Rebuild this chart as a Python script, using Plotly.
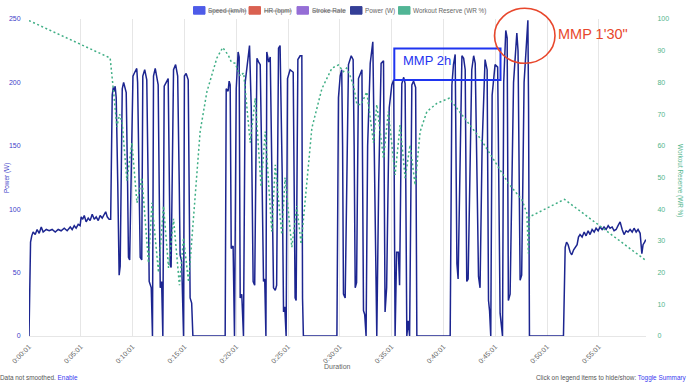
import plotly.graph_objects as go

# ---------------- data ----------------
power_t = [1, 5, 10, 17, 25, 37, 48, 60, 72, 83, 101, 118, 135, 153, 170, 187, 205, 222, 240, 251,
           263, 274, 286, 297, 303, 312, 321, 332, 344, 355, 367, 379, 390, 402, 413, 425, 436, 445, 454, 465,
           474, 483, 489, 494, 500, 506, 515, 523, 529, 535, 541, 549, 564, 572, 577, 584, 593, 603, 610, 625,
           630, 639, 645, 654, 660, 671, 683, 691, 697, 709, 716, 722, 732, 749, 755, 761, 769, 776, 784, 795,
           807, 813, 819, 824, 830, 838, 850, 862, 871, 876, 885, 896, 901, 911, 923, 929, 934, 943, 950, 1137,
           1143, 1154, 1160, 1166, 1172, 1183, 1191, 1201, 1212, 1218, 1224, 1233, 1243, 1253, 1278, 1288, 1299, 1308, 1321, 1331,
           1340, 1351, 1359, 1366, 1373, 1378, 1389, 1398, 1409, 1417, 1427, 1435, 1446, 1455, 1467, 1475, 1482, 1490, 1498, 1513,
           1531, 1542, 1548, 1558, 1571, 1581, 1585, 1590, 1784, 1793, 1803, 1812, 1817, 1822, 1832, 1851, 1867, 1878, 1884, 1890,
           1898, 1909, 1929, 1938, 1945, 1953, 1962, 1977, 1992, 2000, 2005, 2015, 2026, 2040, 2054, 2061, 2063, 2072, 2087, 2102,
           2113, 2121, 2130, 2140, 2147, 2160, 2171, 2179, 2189, 2197, 2205, 2218, 2228, 2240, 2247, 2440, 2450, 2459, 2469, 2479,
           2486, 2508, 2518, 2527, 2536, 2544, 2565, 2576, 2585, 2596, 2604, 2613, 2625, 2642, 2654, 2662, 2668, 2675, 2683, 2700,
           2715, 2729, 2743, 2750, 2762, 2770, 2777, 2787, 2807, 2826, 2833, 2845, 2854, 2868, 2890, 2894, 2899, 3096, 3106, 3114,
           3123, 3135, 3144, 3155, 3164, 3175, 3183, 3192, 3204, 3216, 3227, 3239, 3250, 3262, 3274, 3285, 3297, 3308, 3320, 3331,
           3343, 3355, 3366, 3378, 3389, 3401, 3412, 3424, 3436, 3447, 3459, 3470, 3482, 3494, 3505, 3517, 3528, 3540, 3550, 3557,
           3566, 3573]
power_w = [0, 50, 74, 79, 82, 80, 84, 81, 86, 82, 84, 83, 84, 82, 84, 83, 85, 83, 86, 84,
           87, 85, 88, 87, 94, 92, 95, 90, 93, 91, 96, 92, 94, 91, 95, 93, 96, 98, 94, 92,
           92, 190, 196, 193, 197, 188, 120, 48, 55, 120, 195, 200, 192, 120, 62, 60, 140, 205, 207, 211,
           200, 120, 62, 60, 205, 210, 202, 120, 43, 38, 0, 205, 211, 198, 120, 38, 43, 0, 197, 200,
           203, 130, 56, 54, 150, 210, 214, 205, 120, 64, 59, 0, 205, 207, 202, 120, 30, 26, 0, 0,
           195, 193, 201, 198, 69, 71, 0, 195, 224, 220, 30, 33, 0, 200, 229, 180, 43, 40, 219, 216,
           214, 120, 43, 45, 0, 224, 216, 220, 120, 38, 36, 40, 227, 229, 130, 19, 23, 0, 203, 210,
           208, 30, 28, 218, 221, 221, 30, 0, 0, 188, 205, 210, 150, 33, 30, 214, 221, 218, 150, 38,
           42, 203, 210, 20, 17, 0, 150, 215, 232, 150, 69, 0, 120, 215, 217, 100, 19, 38, 180, 198,
           202, 0, 66, 66, 40, 199, 204, 199, 0, 12, 0, 198, 201, 196, 0, 0, 198, 214, 222, 57,
           45, 221, 219, 210, 43, 45, 210, 221, 215, 120, 47, 38, 150, 218, 210, 28, 20, 0, 190, 214,
           212, 18, 0, 200, 241, 235, 28, 33, 200, 239, 225, 44, 48, 200, 249, 180, 0, 0, 70, 74,
           72, 66, 64, 68, 70, 72, 78, 80, 78, 82, 79, 83, 80, 84, 82, 85, 83, 86, 84, 86,
           84, 87, 85, 86, 83, 84, 87, 90, 84, 80, 83, 82, 84, 82, 85, 82, 84, 81, 65, 72,
           74, 76]

wr_t = [1, 471, 489, 510, 526, 541, 568, 584, 597, 626, 645, 655, 693, 713, 751, 780, 809, 838, 872, 896,
        925, 953, 992, 1031, 1089, 1123, 1156, 1172, 1195, 1224, 1244, 1282, 1311, 1345, 1369, 1407, 1427, 1465, 1484, 1523,
        1552, 1577, 1600, 1639, 1697, 1755, 1793, 1822, 1840, 1861, 1880, 1900, 1924, 1957, 1996, 2015, 2054, 2082, 2121, 2150,
        2179, 2208, 2237, 2266, 2305, 2363, 2434, 2479, 2536, 2613, 2681, 2777, 2855, 2884, 2893, 2899, 3102, 3569]
wr_pct = [99.5, 87.7, 78, 66, 70, 67, 49, 55, 61, 42, 47, 50, 23, 42, 20, 41, 21.5, 37, 16, 31,
          17, 38, 64.5, 77, 87.7, 91, 88.5, 86.5, 86, 82, 83, 61, 75, 47, 64.5, 33, 54, 32, 50, 28,
          41, 29, 43.5, 65.6, 78, 84.5, 85.5, 83.4, 84.5, 82, 79, 73, 73, 77, 61, 73, 56, 70.8, 50.8, 66.6,
          49.8, 60.3, 47.6, 64.5, 70.8, 73.4, 75, 71.8, 67.6, 62.4, 56.6, 48.2, 43, 38.8, 26, 37.6, 43.1, 24]

tick_seconds = [1, 301, 601, 901, 1201, 1501, 1801, 2101, 2401, 2701, 3001, 3301]
tick_labels = ["0:00:01", "0:05:01", "0:10:01", "0:15:01", "0:20:01", "0:25:01",
               "0:30:01", "0:35:01", "0:40:01", "0:45:01", "0:50:01", "0:55:01"]

legend_names = ["Speed (km/h)", "HR (bpm)", "Stroke Rate", "Power (W)", "Workout Reserve (WR %)"]
legend_hidden = [True, True, True, False, False]
legend_colors = ["#3b4ae6", "#d6503f", "#8a5fd2", "#1f2a8c", "#3fae8a"]

# ---------------- styling ----------------
FONT = "Liberation Sans, Arial, sans-serif"
POWER_COLOR = "#1c2590"
WR_COLOR = "#3fae85"
LEFT_TICK = "#4040c8"
RIGHT_TICK = "#4fb58c"

W, H = 690, 383
ML, MR, MT, MB = 29, 44, 19, 47
PW, PH = W - ML - MR, H - MT - MB


def px(xp):
    return (xp - ML) / PW


def py(yp):
    return (H - MB - yp) / PH


fig = go.Figure()
fig.add_trace(go.Scatter(x=power_t, y=power_w, mode="lines", name="Power (W)",
                         line=dict(color=POWER_COLOR, width=1.5), showlegend=False, yaxis="y"))
fig.add_trace(go.Scatter(x=wr_t, y=wr_pct, mode="lines", name="Workout Reserve (WR %)",
                         line=dict(color=WR_COLOR, width=1.5, dash="2px,2.5px"), showlegend=False, yaxis="y2"))

shapes = []
annotations = []

# manual legend (Chart.js style)
box_x = [193.5, 249.0, 297.0, 350.5, 398.5]
for name, hidden, col, bx in zip(legend_names, legend_hidden, legend_colors, box_x):
    shapes.append(dict(type="rect", xref="paper", yref="paper",
                       x0=px(bx), x1=px(bx + 11.5), y0=py(14.2), y1=py(6.6),
                       fillcolor=col, line=dict(color=col, width=1), opacity=0.9))
    txt = f"<s>{name}</s>" if hidden else name
    annotations.append(dict(xref="paper", yref="paper", x=px(bx + 12.5), y=py(10.6),
                            xanchor="left", yanchor="middle", text=txt, showarrow=False,
                            font=dict(family=FONT, size=6.4, color="#666666")))

# MMP annotations
shapes.append(dict(type="rect", xref="paper", yref="paper",
                   x0=px(394.3), x1=px(500.5), y0=py(80), y1=py(48.5),
                   line=dict(color="#1f35f0", width=2), fillcolor="rgba(0,0,0,0)"))
annotations.append(dict(xref="paper", yref="paper", x=px(400.5), y=py(61),
                        xanchor="left", yanchor="middle", text="MMP 2h", showarrow=False,
                        font=dict(family=FONT, size=13, color="#1f35f0")))
shapes.append(dict(type="circle", xref="paper", yref="paper",
                   x0=px(494.5), x1=px(555), y0=py(63.3), y1=py(8.3),
                   line=dict(color="#e8472c", width=1.6), fillcolor="rgba(0,0,0,0)"))
annotations.append(dict(xref="paper", yref="paper", x=px(555.5), y=py(33.5),
                        xanchor="left", yanchor="middle", text="MMP 1'30\"", showarrow=False,
                        font=dict(family=FONT, size=14.5, color="#e8472c")))

# axis titles
annotations.append(dict(xref="paper", yref="paper", x=px(7), y=py(178),
                        xanchor="center", yanchor="middle", text="Power (W)",
                        textangle=-90, showarrow=False,
                        font=dict(family=FONT, size=6.4, color=LEFT_TICK)))
annotations.append(dict(xref="paper", yref="paper", x=px(680), y=py(180),
                        xanchor="center", yanchor="middle", text="Workout Reserve (WR %)",
                        textangle=90, showarrow=False,
                        font=dict(family=FONT, size=6.4, color=RIGHT_TICK)))
annotations.append(dict(xref="paper", yref="paper", x=px(337), y=py(366),
                        xanchor="center", yanchor="middle", text="Duration",
                        showarrow=False, font=dict(family=FONT, size=7, color="#666666")))

# footer texts
annotations.append(dict(xref="paper", yref="paper", x=px(-2), y=py(377.5),
                        xanchor="left", yanchor="middle",
                        text="Data not smoothed. <span style='color:#3b3bef'>Enable</span>",
                        showarrow=False, font=dict(family=FONT, size=6.4, color="#555555")))
annotations.append(dict(xref="paper", yref="paper", x=px(689), y=py(377.5),
                        xanchor="right", yanchor="middle",
                        text="Click on legend items to hide/show: <span style='color:#3b3bef'>Toggle Summary</span>",
                        showarrow=False, font=dict(family=FONT, size=6.4, color="#555555")))

fig.update_layout(
    template="none",
    width=W, height=H,
    margin=dict(l=ML, r=MR, t=MT, b=MB, autoexpand=False),
    paper_bgcolor="white", plot_bgcolor="white",
    font=dict(family=FONT, size=7, color="#666666"),
    showlegend=False,
    shapes=shapes,
    annotations=annotations,
    xaxis=dict(range=[1, 3574], tickmode="array", tickvals=tick_seconds, ticktext=tick_labels,
               tickangle=-45, showgrid=True, gridcolor="#e6e6e6", gridwidth=1,
               showline=True, linecolor="#e6e6e6", linewidth=1, zeroline=False, automargin=False,
               tickfont=dict(family=FONT, size=7, color="#666666"),
               ticks="outside", ticklen=3, tickcolor="rgba(0,0,0,0)"),
    yaxis=dict(range=[0, 250], tickmode="array", tickvals=[0, 50, 100, 150, 200, 250],
               showgrid=False, zeroline=False, showline=False, automargin=False,
               tickfont=dict(family=FONT, size=7, color=LEFT_TICK),
               ticks="outside", ticklen=6, tickcolor="rgba(0,0,0,0)"),
    yaxis2=dict(range=[0, 100], overlaying="y", side="right", tickmode="array",
                tickvals=[0, 10, 20, 30, 40, 50, 60, 70, 80, 90, 100],
                showgrid=False, zeroline=False, showline=False, automargin=False,
                tickfont=dict(family=FONT, size=7, color=RIGHT_TICK),
                ticks="outside", ticklen=9, tickcolor="rgba(0,0,0,0)"),
)

fig.write_html("out.html", config={"displayModeBar": False},
               post_script="document.body.style.margin='0';document.body.style.overflow='hidden';")
